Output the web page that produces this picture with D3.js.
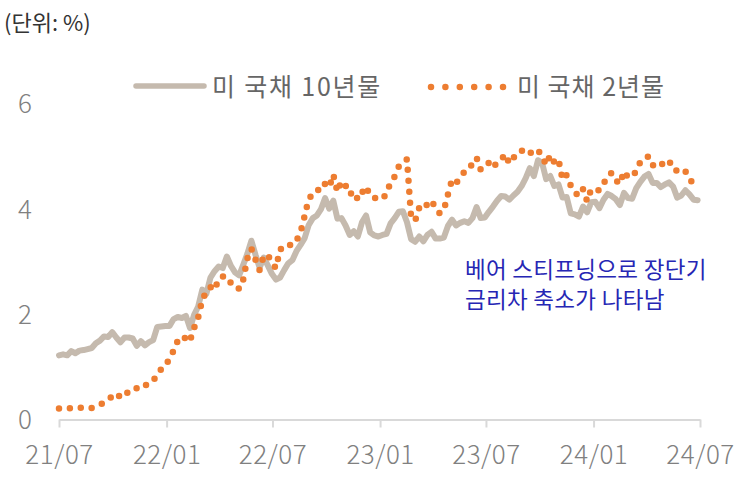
<!DOCTYPE html>
<html>
<head>
<meta charset="utf-8">
<script src="https://cdn.jsdelivr.net/npm/d3@7/dist/d3.min.js"></script>
<style>
html,body{margin:0;padding:0;background:#fff;}
svg{display:block;font-family:"Noto Sans CJK KR","Noto Sans",sans-serif;}
</style>
</head>
<body>
<svg id="chart" width="750" height="483"></svg>
<script>
// ---- data (weekly, starting Monday 2021-07-19) ----
const startDate = "2021-07-19";
const endDate = "2024-07-19";
const seriesNames = ["미 국채 10년물", "미 국채 2년물"];
const unitLabel = "(단위: %)";
const annotationLines = ["베어 스티프닝으로 장단기", "금리차 축소가 나타남"];
const yTicks = [0, 2, 4, 6];
const xTickLabels = ["21/07", "22/01", "22/07", "23/01", "23/07", "24/01", "24/07"];

const us10y = [
  // 2021
  1.22,1.24,1.22,1.30,1.26,1.31,1.32,1.34,1.36,1.45,1.50,1.58,1.57,1.66,1.56,1.47,1.56,1.56,1.54,1.40,1.49,1.41,1.47,1.51,
  // 2022
  1.76,1.77,1.78,1.78,1.91,1.95,1.93,1.97,1.74,1.99,2.15,2.47,2.39,2.70,2.82,2.91,2.88,3.10,2.92,2.80,2.74,2.94,
  3.15,3.40,3.13,2.89,3.08,2.93,2.77,2.66,2.70,2.84,2.97,3.03,3.20,3.32,3.45,3.70,3.83,3.88,4.00,4.21,4.01,4.16,
  3.82,3.83,3.69,3.51,3.58,3.48,3.75,3.88,
  // 2023
  3.56,3.50,3.48,3.51,3.53,3.73,3.83,3.95,3.96,3.75,3.43,3.38,3.48,3.39,3.51,3.57,3.44,3.44,3.46,3.68,3.80,3.69,
  3.74,3.77,3.74,3.83,4.04,3.83,3.84,3.95,4.05,4.16,4.25,4.24,4.18,4.26,4.33,4.44,4.59,4.78,4.63,4.93,4.88,4.57,
  4.63,4.44,4.47,4.22,4.23,3.92,3.90,3.86,
  // 2024
  4.05,3.94,4.13,4.14,4.02,4.18,4.29,4.25,4.19,4.08,4.31,4.21,4.20,4.40,4.52,4.62,4.67,4.50,4.50,4.42,4.47,4.51,
  4.43,4.22,4.26,4.36,4.28,4.18,4.17
];
const us2y = [
  // 2021
  0.21,0.20,0.20,0.22,0.22,0.23,0.21,0.21,0.22,0.26,0.28,0.32,0.38,0.44,0.50,0.42,0.51,0.51,0.52,0.60,0.66,0.64,0.70,0.73,
  // 2022
  0.87,0.96,1.01,1.17,1.31,1.50,1.47,1.58,1.50,1.74,1.94,2.28,2.43,2.52,2.46,2.68,2.72,2.72,2.59,2.58,2.48,2.66,
  3.06,3.25,3.04,2.84,3.11,3.13,2.98,2.88,3.24,3.25,3.26,3.39,3.40,3.56,3.87,4.20,4.28,4.31,4.49,4.48,4.41,4.66,
  4.33,4.53,4.45,4.28,4.34,4.18,4.31,4.43,
  // 2023
  4.25,4.22,4.18,4.20,4.29,4.52,4.62,4.81,4.86,4.95,3.85,3.78,4.03,3.99,4.10,4.17,4.01,3.92,3.98,4.28,4.56,4.50,
  4.59,4.71,4.74,4.87,4.98,4.75,4.84,4.88,4.78,4.89,4.94,5.05,4.87,4.98,5.03,5.12,5.04,5.08,5.05,5.12,5.01,4.84,
  5.03,4.89,4.95,4.56,4.65,4.45,4.32,4.25,
  // 2024
  4.38,4.15,4.38,4.36,4.36,4.48,4.64,4.69,4.55,4.48,4.72,4.60,4.62,4.72,4.90,4.98,5.00,4.83,4.86,4.82,4.94,4.89,
  4.87,4.70,4.73,4.72,4.60,4.45,4.46
];

// ---- build ----
const parse = d3.utcParse("%Y-%m-%d");
const t0 = parse(startDate), t1 = parse(endDate);
const dates = us10y.map((_, i) => d3.utcWeek.offset(t0, i));
const rows10 = dates.map((d, i) => ({d, v: us10y[i]}));
const rows2 = dates.map((d, i) => ({d, v: us2y[i]}));
const tickDates = xTickLabels.map((_, i) => d3.utcMonth.offset(t0, i * 6));

const colors = {ten: "#c5baae", two: "#ed7d31", axis: "#d9d9d9", tick: "#808080", legend: "#666666", note: "#2626b4"};
const tickFont = "'Noto Sans CJK KR', sans-serif";

const svg = d3.select("#chart");
const x = d3.scaleUtc().domain([t0, t1]).range([59, 700]);
const y = d3.scaleLinear().domain([0, 6]).range([419.5, 104]);

// unit label
svg.append("text").attr("x", 4).attr("y", 31).attr("font-size", 22).attr("fill", "#333")
  .text(unitLabel);

// x axis
const xAxis = d3.axisBottom(x).tickValues(tickDates).tickSize(8).tickSizeOuter(0)
  .tickFormat((d, i) => xTickLabels[i]);
const gx = svg.append("g").attr("transform", `translate(0,${y(0)})`).call(xAxis);
gx.select(".domain").attr("stroke", colors.axis).attr("stroke-width", 2);
gx.selectAll(".tick line").attr("stroke", colors.axis).attr("stroke-width", 2);
gx.selectAll(".tick text").attr("fill", colors.tick).attr("font-size", 26).attr("font-weight", 300)
  .attr("font-family", tickFont).attr("dy", "0").attr("y", 44).attr("letter-spacing", 0.5);

// y axis labels only
const yAxis = d3.axisLeft(y).tickValues(yTicks).tickSize(0).tickFormat(d3.format("d"));
const gy = svg.append("g").attr("transform", "translate(34,0)").call(yAxis);
gy.select(".domain").remove();
gy.selectAll(".tick text").attr("fill", colors.tick).attr("font-size", 26).attr("font-weight", 300)
  .attr("font-family", tickFont).attr("text-anchor", "middle").attr("x", -9).attr("dy", "0.34em");

// series
const line = d3.line().x(r => x(r.d)).y(r => y(r.v)).curve(d3.curveLinear);
svg.append("path").datum(rows10).attr("d", line).attr("fill", "none")
  .attr("stroke", colors.ten).attr("stroke-width", 6).attr("stroke-linejoin", "round").attr("stroke-linecap", "round");
svg.append("path").datum(rows2).attr("d", line).attr("fill", "none")
  .attr("stroke", colors.two).attr("stroke-width", 6.5).attr("stroke-linecap", "round")
  .attr("stroke-dasharray", "0 11");

// legend
const lg = svg.append("g");
lg.append("line").attr("x1", 136).attr("x2", 204).attr("y1", 86).attr("y2", 86)
  .attr("stroke", colors.ten).attr("stroke-width", 5.5).attr("stroke-linecap", "round");
lg.append("text").attr("x", 212).attr("y", 96).attr("font-size", 25).attr("letter-spacing", 1.8)
  .attr("fill", colors.legend).text(seriesNames[0]);
lg.append("line").attr("x1", 431).attr("x2", 503).attr("y1", 87).attr("y2", 87)
  .attr("stroke", colors.two).attr("stroke-width", 6.5).attr("stroke-linecap", "round").attr("stroke-dasharray", "0 14.4");
lg.append("text").attr("x", 517).attr("y", 96).attr("font-size", 25).attr("letter-spacing", 1)
  .attr("fill", colors.legend).text(seriesNames[1]);

// annotation
svg.append("g").selectAll("text").data(annotationLines).join("text")
  .attr("x", 465).attr("y", (d, i) => 278 + i * 30).attr("font-size", 22.5).attr("letter-spacing", 0.3)
  .attr("fill", colors.note).text(d => d);
</script>
</body>
</html>
